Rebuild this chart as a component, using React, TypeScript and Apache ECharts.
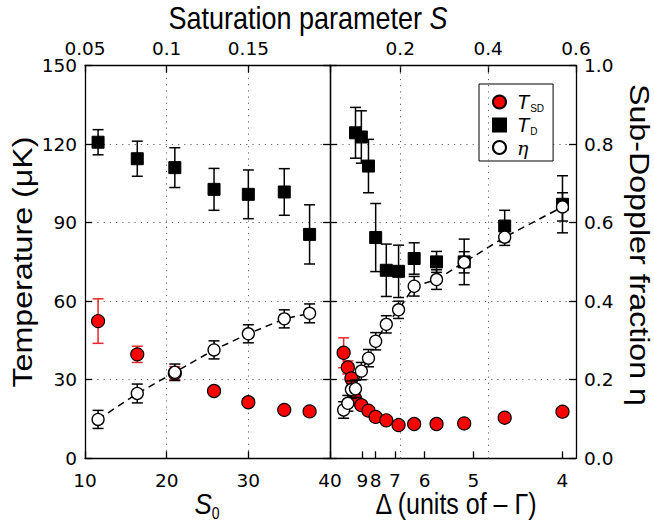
import React, { useEffect, useRef } from "react";
import * as echarts from "echarts";

// ---------- data (left panel: vs S0) ----------
const S0_LEFT = [11.6, 16.4, 21.0, 25.8, 30.0, 34.4, 37.5];
const TSD_LEFT = [52.4, 39.7, 32.5, 25.7, 21.4, 18.5, 17.9];
const TSD_LEFT_ERR = [8.5, 3.1, 2.5, 1.0, 1.0, 1.0, 1.0];
const TD_LEFT = [120.7, 114.4, 111.0, 102.7, 100.8, 101.7, 85.5];
const TD_LEFT_ERR = [4.8, 6.7, 7.6, 8.0, 9.3, 8.9, 11.3];
const ETA_LEFT = [0.099, 0.165, 0.219, 0.276, 0.317, 0.355, 0.369];
const ETA_LEFT_ERR = [0.023, 0.024, 0.021, 0.023, 0.023, 0.023, 0.024];

// ---------- data (right panel: vs detuning Δ) ----------
const DELTA_RIGHT = [11.4, 10.7, 10.2, 9.7, 9.1, 8.5, 8.0, 7.4, 6.85, 6.3, 5.7, 5.15, 4.57, 4.0];
const TSD_RIGHT = [40.3, 34.7, 30.5, 22.5, 20.3, 18.2, 15.8, 14.5, 12.7, 13.1, 13.1, 13.3, 15.5, 17.8];
const TSD_RIGHT_ERR = [5.7, 2.5, 2.0, 2.0, 1.5, 1, 1, 1, 1, 1, 1, 1, 1, 1];
const DELTA_TD = [9.7, 9.1, 8.5, 8.0, 7.4, 6.85, 6.3, 5.7, 5.15, 4.57, 4.0];
const TD_RIGHT = [124.3, 122.7, 111.6, 84.3, 71.8, 71.4, 76.3, 75.0, 75.0, 88.7, 97.0];
const TD_RIGHT_ERR = [9.7, 10, 10.2, 13, 10, 10, 6, 4, 8.7, 6, 10.9];
const ETA_RIGHT = [0.123, 0.14, 0.175, 0.177, 0.222, 0.255, 0.298, 0.341, 0.378, 0.438, 0.455, 0.499, 0.563, 0.64];
const ETA_RIGHT_ERR = [0.021, 0.02, 0.022, 0.022, 0.022, 0.022, 0.022, 0.022, 0.022, 0.025, 0.025, 0.027, 0.021, 0.036];

// ---------- ticks ----------
const S0_TICKS = [10, 20, 30, 40];
const S_TICKS_LEFT = [0.05, 0.1, 0.15, 0.2];
const S_TICKS_RIGHT = [0.2, 0.4, 0.6];
const DELTA_TICKS = [9, 8, 7, 6, 5, 4];
const S_GRID_RIGHT = [0.2, 0.4];

// saturation parameter of the right-panel scan: S = S0 / (1 + 4 Δ²)
const S0_RIGHT = 37;
const sOfDelta = (d: number) => S0_RIGHT / (1 + 4 * d * d);

const TICK_FONT = "'DejaVu Sans', sans-serif";
const TITLE_FONT = "'Liberation Sans', Arial, sans-serif";
const RED = "#ff0000";
const ERR_RED = "#e8272b";

const dotted = { color: "#666", width: 1, type: [1.2, 5] as number[] };
const axisLineStyle = { show: true, onZero: false, lineStyle: { color: "#000", width: 1.3 } };
const tickStyle = { show: true, inside: true, length: 7, lineStyle: { color: "#000", width: 1.3 } };
const labelStyle = { color: "#000", fontFamily: TICK_FONT, fontSize: 18.5 };

function errData(xs: number[], ys: number[], es: number[]) {
  return xs.map((x, i) => [x, ys[i] - es[i], ys[i] + es[i]]);
}

function errSeries(xIdx: number, yIdx: number, data: number[][], color: string, z: number) {
  return {
    type: "custom",
    xAxisIndex: xIdx,
    yAxisIndex: yIdx,
    data,
    z,
    silent: true,
    clip: false,
    encode: { x: 0, y: [1, 2] },
    renderItem: (_p: any, api: any) => {
      const x = api.value(0);
      const a = api.coord([x, api.value(1)]);
      const b = api.coord([x, api.value(2)]);
      const w = 5.5;
      const st = { stroke: color, lineWidth: 1.5 };
      return {
        type: "group",
        children: [
          { type: "line", shape: { x1: a[0], y1: a[1], x2: b[0], y2: b[1] }, style: st },
          { type: "line", shape: { x1: a[0] - w, y1: a[1], x2: a[0] + w, y2: a[1] }, style: st },
          { type: "line", shape: { x1: b[0] - w, y1: b[1], x2: b[0] + w, y2: b[1] }, style: st },
        ],
      };
    },
  };
}

const pairs = (xs: number[], ys: number[]) => xs.map((x, i) => [x, ys[i]]);

export default function App() {
  const ref = useRef<HTMLDivElement>(null);
  useEffect(() => {
    if (!ref.current) return;
    const chart = echarts.init(ref.current, null, { renderer: "svg" });

    const sRight = DELTA_RIGHT.map(sOfDelta);
    const sTD = DELTA_TD.map(sOfDelta);

    const redItem = { color: RED, borderColor: "#000", borderWidth: 1.2, opacity: 1 };
    const sqItem = { color: "#000", borderColor: "#000", borderWidth: 1, opacity: 1 };
    const openItem = { color: "#fff", borderColor: "#000", borderWidth: 1.3, opacity: 1 };
    const dashLine = { color: "#000", width: 1.5, type: [7, 5] as number[] };

    const option: any = {
      animation: false,
      backgroundColor: "#fff",
      grid: [
        { left: 85, top: 65.5, width: 245, height: 392.8 },
        { left: 330, top: 65.5, width: 246, height: 392.8 },
      ],
      xAxis: [
        {
          gridIndex: 0, type: "value", position: "bottom", min: 10, max: 40, interval: 10,
          axisLine: axisLineStyle, axisTick: tickStyle,
          axisLabel: { ...labelStyle, margin: 13, customValues: S0_TICKS },
          splitLine: { show: true, lineStyle: dotted },
        },
        {
          gridIndex: 0, type: "value", position: "top", min: 0.05, max: 0.2, interval: 0.05,
          axisLine: axisLineStyle, axisTick: { ...tickStyle, customValues: S_TICKS_LEFT },
          axisLabel: {
            ...labelStyle, margin: 8, customValues: S_TICKS_LEFT.slice(0, 3),
            formatter: (v: number) => String(+v.toFixed(2)),
          },
          splitLine: { show: false },
        },
        {
          gridIndex: 1, type: "value", position: "bottom", min: 0.04, max: 0.6,
          axisLine: axisLineStyle,
          axisTick: { ...tickStyle, customValues: DELTA_TICKS.map(sOfDelta) },
          axisLabel: {
            ...labelStyle, margin: 13, customValues: DELTA_TICKS.map(sOfDelta),
            formatter: (v: number) => {
              const i = DELTA_TICKS.findIndex((d) => Math.abs(sOfDelta(d) - v) < 1e-6);
              return i >= 0 ? String(DELTA_TICKS[i]) : "";
            },
          },
          splitLine: { show: false },
        },
        {
          gridIndex: 1, type: "value", position: "top", min: 0.04, max: 0.6,
          axisLine: axisLineStyle,
          axisTick: { ...tickStyle, customValues: S_TICKS_RIGHT },
          axisLabel: {
            ...labelStyle, margin: 8, customValues: S_TICKS_RIGHT,
            formatter: (v: number) => String(+v.toFixed(2)),
          },
          splitLine: { show: false },
        },
      ],
      yAxis: [
        {
          gridIndex: 0, type: "value", position: "left", min: 0, max: 150, interval: 30,
          axisLine: axisLineStyle, axisTick: tickStyle,
          axisLabel: { ...labelStyle, margin: 8 },
          splitLine: { show: true, lineStyle: dotted },
        },
        {
          gridIndex: 0, type: "value", position: "right", min: 0, max: 150, interval: 30,
          axisLine: axisLineStyle, axisTick: tickStyle,
          axisLabel: { show: false }, splitLine: { show: false },
        },
        { gridIndex: 0, type: "value", min: 0, max: 1, show: false },
        {
          gridIndex: 1, type: "value", position: "left", min: 0, max: 150, interval: 30,
          axisLine: axisLineStyle, axisTick: tickStyle,
          axisLabel: { show: false },
          splitLine: { show: true, lineStyle: dotted },
        },
        {
          gridIndex: 1, type: "value", position: "right", min: 0, max: 1, interval: 0.2,
          axisLine: axisLineStyle, axisTick: tickStyle,
          axisLabel: { ...labelStyle, margin: 8, formatter: (v: number) => v.toFixed(1) },
          splitLine: { show: false },
        },
      ],
      legend: {
        data: ["T_SD", "T_D", "η"],
        orient: "vertical",
        left: 479,
        top: 84,
        padding: [8, 9, 4, 13],
        itemGap: 2,
        itemWidth: 13,
        itemHeight: 13,
        selectedMode: false,
        borderColor: "#000",
        borderWidth: 1,
        backgroundColor: "#fff",
        formatter: (name: string) =>
          name === "T_SD" ? "{t|T}{s|SD}" : name === "T_D" ? "{t|T}{s|D}" : "{e|η}",
        textStyle: {
          color: "#000",
          rich: {
            t: { fontFamily: TITLE_FONT, fontStyle: "italic", fontSize: 20, lineHeight: 22, padding: [0, 0, 0, 6] },
            s: { fontFamily: TITLE_FONT, fontSize: 10, lineHeight: 10, verticalAlign: "bottom", padding: [0, 0, 0, 1] },
            e: { fontFamily: "'DejaVu Serif', serif", fontStyle: "italic", fontSize: 19, lineHeight: 22, padding: [0, 0, 0, 6] },
          },
        },
      },
      series: [
        // dashed eta lines
        { type: "line", xAxisIndex: 0, yAxisIndex: 2, data: pairs(S0_LEFT, ETA_LEFT), symbol: "none", lineStyle: dashLine, z: 2, silent: true },
        {
          type: "line", xAxisIndex: 2, yAxisIndex: 4, data: pairs(sRight, ETA_RIGHT), symbol: "none", lineStyle: dashLine, z: 2, silent: true,
          markLine: {
            silent: true, symbol: ["none", "none"], label: { show: false },
            lineStyle: dotted,
            data: S_GRID_RIGHT.map((s) => ({ xAxis: s })),
          },
        },
        // T_SD
        errSeries(0, 0, errData(S0_LEFT, TSD_LEFT, TSD_LEFT_ERR), ERR_RED, 3),
        errSeries(2, 3, errData(sRight, TSD_RIGHT, TSD_RIGHT_ERR), ERR_RED, 3),
        { type: "scatter", name: "T_SD", xAxisIndex: 0, yAxisIndex: 0, data: pairs(S0_LEFT, TSD_LEFT), symbol: "circle", symbolSize: 13, itemStyle: redItem, z: 4 },
        { type: "scatter", name: "T_SD", xAxisIndex: 2, yAxisIndex: 3, data: pairs(sRight, TSD_RIGHT), symbol: "circle", symbolSize: 13, itemStyle: redItem, z: 4 },
        // T_D
        errSeries(0, 0, errData(S0_LEFT, TD_LEFT, TD_LEFT_ERR), "#000", 5),
        errSeries(2, 3, errData(sTD, TD_RIGHT, TD_RIGHT_ERR), "#000", 5),
        { type: "scatter", name: "T_D", xAxisIndex: 0, yAxisIndex: 0, data: pairs(S0_LEFT, TD_LEFT), symbol: "rect", symbolSize: 12, itemStyle: sqItem, z: 6 },
        { type: "scatter", name: "T_D", xAxisIndex: 2, yAxisIndex: 3, data: pairs(sTD, TD_RIGHT), symbol: "rect", symbolSize: 12, itemStyle: sqItem, z: 6 },
        // eta
        errSeries(0, 2, errData(S0_LEFT, ETA_LEFT, ETA_LEFT_ERR), "#000", 7),
        errSeries(2, 4, errData(sRight, ETA_RIGHT, ETA_RIGHT_ERR), "#000", 7),
        { type: "scatter", name: "η", xAxisIndex: 0, yAxisIndex: 2, data: pairs(S0_LEFT, ETA_LEFT), symbol: "circle", symbolSize: 12, itemStyle: openItem, z: 8 },
        { type: "scatter", name: "η", xAxisIndex: 2, yAxisIndex: 4, data: pairs(sRight, ETA_RIGHT), symbol: "circle", symbolSize: 12, itemStyle: openItem, z: 8 },
      ],
      graphic: [
        {
          type: "text", x: 308, y: 18, z: 10, scaleY: 1.15,
          style: {
            text: "{n|Saturation parameter }{i|S}", align: "center", verticalAlign: "middle", fill: "#000",
            rich: {
              n: { fontFamily: TITLE_FONT, fontSize: 27 },
              i: { fontFamily: TITLE_FONT, fontSize: 27, fontStyle: "italic" },
            },
          },
        },
        {
          type: "text", x: 22, y: 262, rotation: Math.PI / 2, scaleX: 1.15, z: 10,
          style: { text: "Temperature (μK)", align: "center", verticalAlign: "middle", fill: "#000", fontFamily: TITLE_FONT, fontSize: 28 },
        },
        {
          type: "text", x: 640, y: 245, rotation: -Math.PI / 2, scaleX: 1.15, z: 10,
          style: { text: "Sub-Doppler fraction η", align: "center", verticalAlign: "middle", fill: "#000", fontFamily: TITLE_FONT, fontSize: 28 },
        },
        {
          type: "text", x: 207, y: 504, z: 10, scaleY: 1.15,
          style: {
            text: "{i|S}{s|0}", align: "center", verticalAlign: "middle", fill: "#000",
            rich: {
              i: { fontFamily: TITLE_FONT, fontSize: 26, fontStyle: "italic", lineHeight: 30 },
              s: { fontFamily: TITLE_FONT, fontSize: 14, lineHeight: 14, verticalAlign: "bottom" },
            },
          },
        },
        {
          type: "text", x: 456, y: 504, z: 10, scaleY: 1.15,
          style: { text: "Δ (units of – Γ)", align: "center", verticalAlign: "middle", fill: "#000", fontFamily: TITLE_FONT, fontSize: 25 },
        },
      ],
    };
    chart.setOption(option);
    return () => chart.dispose();
  }, []);

  return <div ref={ref} style={{ position: "fixed", left: 0, top: 0, width: 654, height: 524 }} />;
}
